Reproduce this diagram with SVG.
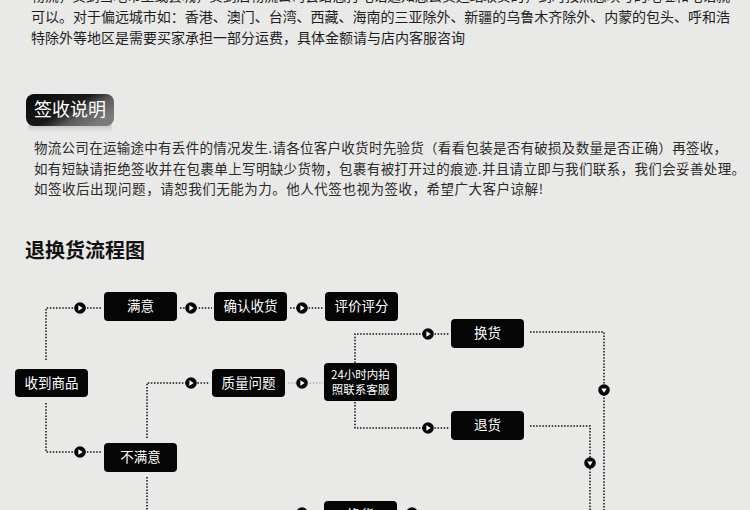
<svg xmlns="http://www.w3.org/2000/svg" width="750" height="510" viewBox="0 0 750 510">
<style>
text{font-family:"Noto Sans CJK SC","Noto Sans",sans-serif}
.p{font-size:14px;fill:#1e1e1e}
.q{font-size:13.5px;fill:#2a2a2a}
.n rect{fill:#050505}
.n text{fill:#fff;font-size:13.5px;text-anchor:middle}
.d{fill:none;stroke:#111;stroke-width:1.5;stroke-dasharray:1.5 1.6}
.b{fill:none;stroke:#a9b6c8;stroke-width:1.5;stroke-dasharray:1.5 1.6}
</style>
<defs>
<g id="ar"><circle r="5.8" fill="#080808"/><polygon points="-1.6,-2.7 2.7,0 -1.6,2.7" fill="#fff"/></g>
<linearGradient id="bg1" x1="0" y1="0" x2="1" y2="0.6">
<stop offset="0" stop-color="#0a0a0a"/><stop offset="0.55" stop-color="#1a1a1a"/><stop offset="0.75" stop-color="#5a5a5a"/><stop offset="1" stop-color="#7a7a7a"/>
</linearGradient>
<linearGradient id="sh" x1="0" y1="0" x2="0" y2="1">
<stop offset="0" stop-color="#9a9a9a" stop-opacity="0.8"/><stop offset="1" stop-color="#e9e9e8" stop-opacity="0"/>
</linearGradient>
</defs>
<rect width="750" height="510" fill="#e9e9e8"/>

<g id="intro">
<text class="p" x="31" y="1" textLength="699">物流，货到当地市里或县城，货到后物流公司会给您打电话通知您去货运站取货的，到时按照您填写的地址和电话就</text>
<text class="p" x="31" y="22" textLength="699">可以。对于偏远城市如：香港、澳门、台湾、西藏、海南的三亚除外、新疆的乌鲁木齐除外、内蒙的包头、呼和浩</text>
<text class="p" x="31" y="43" textLength="434">特除外等地区是需要买家承担一部分运费，具体金额请与店内客服咨询</text>
</g>

<g id="badge">
<rect x="28" y="122" width="84" height="13" rx="6" fill="url(#sh)"/>
<rect x="26" y="94" width="88" height="32" rx="8" fill="url(#bg1)"/>
<text x="34" y="116" font-size="18" fill="#fff" textLength="72">签收说明</text>
</g>

<g id="notice">
<text class="q" x="34" y="153" textLength="693">物流公司在运输途中有丢件的情况发生.请各位客户收货时先验货（看看包装是否有破损及数量是否正确）再签收，</text>
<text class="q" x="34" y="174" textLength="711">如有短缺请拒绝签收并在包裹单上写明缺少货物，包裹有被打开过的痕迹.并且请立即与我们联系，我们会妥善处理。</text>
<text class="q" x="34" y="194" textLength="509">如签收后出现问题，请恕我们无能为力。他人代签也视为签收，希望广大客户谅解!</text>
</g>

<g id="title">
<text x="25" y="258" font-size="20" font-weight="bold" fill="#111" textLength="120">退换货流程图</text>
</g>

<g id="connectors">
<path class="d" d="M46,360 V308 H101"/>
<path class="d" d="M180,308 H212"/>
<path class="d" d="M290,308 H323"/>
<path class="d" d="M46,403 V452 H101"/>
<path class="d" d="M147,438 V383 H209"/>
<path class="d" d="M147,477 V510"/>
<path class="b" d="M288,383 H323"/>
<path class="d" d="M355,363 V334 H449"/>
<path class="d" d="M355,402 V428 H449"/>
<path class="d" d="M530,332 H604 V510"/>
<path class="d" d="M530,426 H590 V510"/>
<path class="d" d="M288,511 H322"/>
<path class="d" d="M400,511 H425"/>
<use href="#ar" x="80" y="308"/>
<use href="#ar" x="191" y="308"/>
<use href="#ar" x="302" y="308"/>
<use href="#ar" x="80" y="452"/>
<use href="#ar" x="191" y="383"/>
<use href="#ar" x="302" y="383"/>
<use href="#ar" x="428" y="334"/>
<use href="#ar" x="428" y="428"/>
<use href="#ar" transform="translate(604,390) rotate(90)"/>
<use href="#ar" transform="translate(590,463) rotate(90)"/>
<use href="#ar" x="302" y="513"/>
<use href="#ar" x="412" y="513"/>
</g>

<g id="n-receive" class="n"><rect x="15" y="369" width="73" height="28" rx="4"/><text x="51.5" y="388">收到商品</text></g>
<g id="n-ok" class="n"><rect x="104" y="292" width="73" height="29" rx="4"/><text x="140.5" y="311">满意</text></g>
<g id="n-confirm" class="n"><rect x="214" y="292" width="73" height="29" rx="4"/><text x="250.5" y="311">确认收货</text></g>
<g id="n-rate" class="n"><rect x="325" y="292" width="73" height="29" rx="4"/><text x="361.5" y="311">评价评分</text></g>
<g id="n-quality" class="n"><rect x="212" y="369" width="73" height="28" rx="4"/><text x="248.5" y="388">质量问题</text></g>
<g id="n-contact" class="n"><rect x="324" y="363" width="73" height="38" rx="4"/><text x="360.5" y="379" style="font-size:11.5px">24小时内拍</text><text x="360.5" y="393.5" style="font-size:11.5px">照联系客服</text></g>
<g id="n-exchange" class="n"><rect x="451" y="319" width="73" height="29" rx="4"/><text x="487.5" y="338">换货</text></g>
<g id="n-return" class="n"><rect x="451" y="411" width="73" height="29" rx="4"/><text x="487.5" y="430">退货</text></g>
<g id="n-notok" class="n"><rect x="104" y="443" width="73" height="29" rx="4"/><text x="140.5" y="462">不满意</text></g>
<g id="n-bottom" class="n"><rect x="324" y="501" width="73" height="29" rx="4"/><text x="360.5" y="520">换货</text></g>
</svg>
